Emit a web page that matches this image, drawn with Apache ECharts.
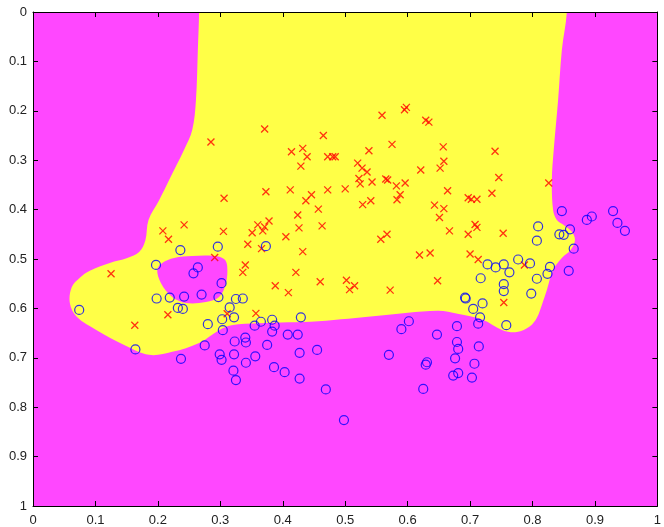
<!DOCTYPE html>
<html>
<head>
<meta charset="utf-8">
<script src="https://cdn.jsdelivr.net/npm/echarts@6/dist/echarts.min.js"></script>
<style>
  html, body { margin: 0; padding: 0; background: #ffffff; }
  #chart { width: 664px; height: 527px; }
</style>
</head>
<body>
<div id="chart"></div>
<script>
// Class 1 samples (red crosses)
const classOne = [
  [0.285,0.263],[0.371,0.237],[0.465,0.250],[0.559,0.209],[0.575,0.268],[0.414,0.283],
  [0.432,0.276],[0.439,0.293],[0.472,0.293],[0.480,0.293],[0.484,0.293],[0.538,0.281],
  [0.429,0.312],[0.520,0.306],[0.527,0.316],[0.535,0.324],[0.522,0.337],[0.524,0.348],
  [0.543,0.344],[0.565,0.338],[0.568,0.340],[0.582,0.352],[0.306,0.377],[0.373,0.364],
  [0.412,0.360],[0.446,0.370],[0.437,0.382],[0.472,0.360],[0.500,0.358],[0.528,0.390],
  [0.541,0.382],[0.457,0.399],[0.424,0.411],[0.583,0.380],[0.378,0.423],[0.360,0.431],
  [0.371,0.435],[0.351,0.447],[0.368,0.443],[0.305,0.444],[0.426,0.437],[0.463,0.433],
  [0.405,0.455],[0.344,0.470],[0.366,0.479],[0.432,0.485],[0.557,0.460],[0.567,0.450],
  [0.291,0.497],[0.595,0.198],[0.598,0.193],[0.629,0.219],[0.634,0.223],[0.657,0.273],
  [0.740,0.282],[0.658,0.302],[0.652,0.316],[0.621,0.320],[0.596,0.346],[0.746,0.335],
  [0.826,0.346],[0.664,0.362],[0.588,0.370],[0.697,0.376],[0.702,0.379],[0.711,0.379],
  [0.735,0.367],[0.643,0.391],[0.658,0.398],[0.651,0.416],[0.667,0.443],[0.697,0.450],
  [0.708,0.430],[0.711,0.436],[0.753,0.448],[0.700,0.490],[0.713,0.501],[0.787,0.512],
  [0.648,0.544],[0.754,0.588],[0.409,0.568],[0.507,0.562],[0.572,0.563],[0.311,0.611],
  [0.357,0.610],[0.208,0.443],[0.242,0.431],[0.217,0.460],[0.340,0.512],[0.336,0.527],
  [0.125,0.530],[0.216,0.613],[0.163,0.634],[0.619,0.492],[0.636,0.488],[0.421,0.527],
  [0.388,0.554],[0.460,0.546],[0.502,0.543],[0.515,0.554]
];

// Class 2 samples (blue circles)
const classTwo = [
  [0.847,0.403],[0.809,0.434],[0.807,0.463],[0.843,0.450],[0.850,0.451],[0.860,0.440],
  [0.887,0.421],[0.895,0.414],[0.929,0.403],[0.936,0.427],[0.948,0.443],[0.866,0.479],
  [0.728,0.511],[0.741,0.517],[0.754,0.511],[0.763,0.527],[0.777,0.501],[0.796,0.509],
  [0.828,0.516],[0.824,0.530],[0.858,0.524],[0.807,0.540],[0.717,0.539],[0.754,0.551],
  [0.754,0.565],[0.798,0.570],[0.692,0.578],[0.693,0.580],[0.720,0.590],[0.705,0.601],
  [0.716,0.618],[0.713,0.631],[0.758,0.634],[0.679,0.636],[0.647,0.653],[0.679,0.668],
  [0.681,0.682],[0.714,0.677],[0.676,0.701],[0.707,0.712],[0.631,0.709],[0.629,0.714],
  [0.681,0.731],[0.673,0.736],[0.703,0.740],[0.625,0.763],[0.297,0.577],[0.325,0.581],
  [0.336,0.580],[0.315,0.598],[0.303,0.622],[0.322,0.618],[0.365,0.627],[0.355,0.635],
  [0.383,0.623],[0.387,0.635],[0.383,0.647],[0.429,0.618],[0.304,0.644],[0.408,0.653],
  [0.424,0.653],[0.340,0.659],[0.341,0.669],[0.323,0.667],[0.375,0.674],[0.455,0.684],
  [0.427,0.690],[0.299,0.693],[0.302,0.704],[0.322,0.693],[0.356,0.697],[0.341,0.710],
  [0.386,0.719],[0.403,0.729],[0.321,0.726],[0.325,0.745],[0.427,0.742],[0.469,0.764],
  [0.498,0.826],[0.570,0.694],[0.602,0.626],[0.590,0.642],[0.236,0.482],[0.296,0.475],
  [0.197,0.512],[0.264,0.517],[0.257,0.529],[0.302,0.549],[0.198,0.580],[0.219,0.578],
  [0.242,0.576],[0.270,0.572],[0.232,0.599],[0.240,0.601],[0.074,0.603],[0.280,0.632],
  [0.164,0.683],[0.275,0.675],[0.237,0.702],[0.373,0.474]
];

// Outline of the class 1 decision region (top edge runs past the plot and is clipped)
const regionOne = [
  [0.858,-0.150],[0.855,0.000],[0.847,0.077],[0.841,0.178],[0.834,0.279],[0.831,0.340],
  [0.833,0.401],[0.839,0.421],[0.850,0.431],[0.863,0.445],[0.868,0.462],[0.861,0.482],
  [0.847,0.498],[0.833,0.522],[0.823,0.563],[0.815,0.593],[0.807,0.619],[0.796,0.636],
  [0.775,0.648],[0.752,0.644],[0.720,0.623],[0.680,0.611],[0.648,0.605],[0.553,0.615],
  [0.457,0.626],[0.361,0.630],[0.318,0.634],[0.298,0.644],[0.266,0.670],[0.223,0.688],
  [0.186,0.694],[0.146,0.674],[0.102,0.644],[0.070,0.617],[0.059,0.589],[0.062,0.557],
  [0.075,0.538],[0.091,0.524],[0.123,0.508],[0.151,0.498],[0.170,0.486],[0.180,0.462],
  [0.185,0.421],[0.202,0.381],[0.218,0.340],[0.242,0.279],[0.255,0.239],[0.261,0.178],
  [0.264,0.077],[0.266,0.000],[0.267,-0.150]
];

// Class 2 pocket enclosed by the class 1 region
const regionTwoPocket = [
  [0.207,0.508],[0.226,0.498],[0.255,0.494],[0.290,0.494],[0.306,0.500],[0.311,0.514],
  [0.309,0.549],[0.298,0.577],[0.277,0.587],[0.245,0.589],[0.223,0.577],[0.205,0.549],
  [0.199,0.522]
];

const colorOne = '#ffff47';
const colorTwo = '#ff47ff';
const fontFamily = 'Liberation Sans, Arial, Helvetica, sans-serif';

function regionSeries(outline, fill, z) {
  return {
    type: 'custom',
    coordinateSystem: 'cartesian2d',
    clip: true,
    silent: true,
    z: z,
    data: [[0, 0]],
    renderItem: function (params, api) {
      return {
        type: 'polygon',
        shape: { points: outline.map(function (p) { return api.coord(p); }), smooth: 0.35 },
        style: { fill: fill }
      };
    }
  };
}

function valueAxis(position, showLabels, inverse) {
  return {
    type: 'value',
    position: position,
    min: 0,
    max: 1,
    interval: 0.1,
    inverse: inverse,
    z: 10,
    axisLine: { show: true, onZero: false, lineStyle: { color: '#000', width: 1 } },
    axisTick: { show: true, inside: true, length: 5, lineStyle: { color: '#000', width: 1 } },
    axisLabel: {
      show: showLabels,
      color: '#222',
      fontSize: 13,
      fontFamily: fontFamily,
      margin: position === 'bottom' ? 8 : 6,
      formatter: function (v) { return String(Math.round(v * 10) / 10); }
    },
    splitLine: { show: false }
  };
}

const chart = echarts.init(document.getElementById('chart'), null, { renderer: 'canvas' });
chart.setOption({
  animation: false,
  backgroundColor: '#ffffff',
  grid: {
    left: 33, right: 3, top: 12, bottom: 21,
    show: true, backgroundColor: colorTwo, borderWidth: 0
  },
  xAxis: [valueAxis('bottom', true, false), valueAxis('top', false, false)],
  yAxis: [valueAxis('left', true, true), valueAxis('right', false, true)],
  series: [
    regionSeries(regionOne, colorOne, 1),
    regionSeries(regionTwoPocket, colorTwo, 2),
    {
      type: 'scatter',
      z: 5,
      data: classOne,
      symbol: 'path://M0,0L10,10M10,0L0,10',
      symbolSize: 7,
      itemStyle: { color: 'rgba(0,0,0,0)', borderColor: '#ff0000', borderWidth: 1.3 }
    },
    {
      type: 'scatter',
      z: 5,
      data: classTwo,
      symbol: 'circle',
      symbolSize: 9,
      itemStyle: { color: 'rgba(0,0,0,0)', borderColor: '#0000ff', borderWidth: 1.2 }
    }
  ]
});
</script>
</body>
</html>
